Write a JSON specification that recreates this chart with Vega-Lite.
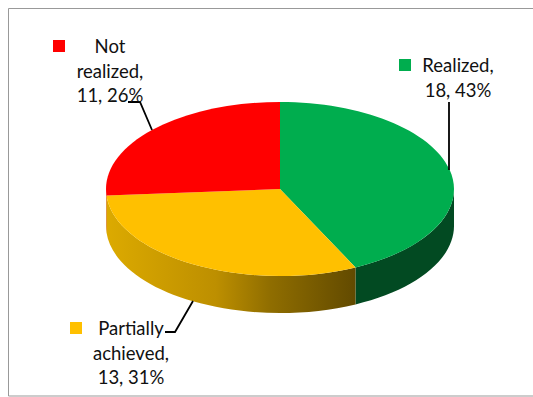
{
  "$schema": "https://vega.github.io/schema/vega-lite/v6.json",
  "width": 506,
  "height": 378,
  "padding": {"left": 27, "right": 0, "top": 0, "bottom": 19},
  "autosize": {"type": "none"},
  "background": "#ffffff",
  "view": {"stroke": null},
  "params": [
    {"name": "rx", "value": 174},
    {"name": "ry", "value": 87},
    {"name": "depth", "value": 37}
  ],
  "data": {
    "values": [
      {"status": "Realized", "count": 18, "share": 43, "label": "Realized,\n18, 43%"},
      {"status": "Partially achieved", "count": 13, "share": 31, "label": "Partially\nachieved,\n13, 31%"},
      {"status": "Not realized", "count": 11, "share": 26, "label": "Not\nrealized,\n11, 26%"}
    ]
  },
  "transform": [
    {"window": [{"op": "sum", "field": "count", "as": "cum"}], "sort": [{"field": "count", "order": "descending"}]},
    {"joinaggregate": [{"op": "sum", "field": "count", "as": "total"}]},
    {"calculate": "2*PI*(datum.cum-datum.count)/datum.total", "as": "a0"},
    {"calculate": "2*PI*datum.cum/datum.total", "as": "a1"},
    {"calculate": "round(rx*sin(datum.a0)*100)/100", "as": "x0"},
    {"calculate": "round(-ry*cos(datum.a0)*100)/100", "as": "y0"},
    {"calculate": "round(rx*sin(datum.a1)*100)/100", "as": "x1"},
    {"calculate": "round(-ry*cos(datum.a1)*100)/100", "as": "y1"},
    {"calculate": "max(datum.a0,PI/2)", "as": "w0"},
    {"calculate": "min(datum.a1,3*PI/2)", "as": "w1"},
    {"calculate": "round(rx*sin(datum.w0)*100)/100", "as": "wx0"},
    {"calculate": "round(-ry*cos(datum.w0)*100)/100", "as": "wy0"},
    {"calculate": "round(rx*sin(datum.w1)*100)/100", "as": "wx1"},
    {"calculate": "round(-ry*cos(datum.w1)*100)/100", "as": "wy1"},
    {"calculate": "'M0,0L'+datum.x0+','+datum.y0+'A'+rx+','+ry+' 0 '+(datum.a1-datum.a0>PI?1:0)+' 1 '+datum.x1+','+datum.y1+'Z'", "as": "facePath"},
    {"calculate": "'M'+datum.wx0+','+datum.wy0+'A'+rx+','+ry+' 0 0 1 '+datum.wx1+','+datum.wy1+'L'+datum.wx1+','+(datum.wy1+depth)+'A'+rx+','+ry+' 0 0 0 '+datum.wx0+','+(datum.wy0+depth)+'Z'", "as": "wallPath"}
  ],
  "resolve": {"scale": {"color": "independent", "shape": "independent"}},
  "layer": [
    {
      "data": {"values": [{"part": "frame"}]},
      "transform": [],
      "mark": {"type": "point", "filled": false, "opacity": 1, "size": 4, "stroke": "#999999", "strokeWidth": 1,
               "shape": "M253,-180.5L-271.5,-180.5L-271.5,207L253,207"}
    },
    {
      "transform": [{"filter": "datum.status !== 'Partially achieved'"}],
      "mark": {"type": "point", "filled": true, "opacity": 1, "size": 4},
      "encoding": {
        "shape": {"field": "wallPath", "type": "nominal", "scale": null},
        "color": {"field": "status", "type": "nominal", "legend": null,
                  "scale": {"domain": ["Realized", "Not realized"], "range": ["#024a22", "#c00000"]}}
      }
    },
    {
      "transform": [{"filter": "datum.status === 'Partially achieved'"}],
      "mark": {"type": "point", "filled": true, "opacity": 1, "size": 4,
               "color": {"gradient": "linear", "x1": 0, "y1": 0, "x2": 1, "y2": 0,
                         "stops": [
                           {"offset": 0, "color": "#dcaa00"},
                           {"offset": 0.44, "color": "#bd8f00"},
                           {"offset": 0.66, "color": "#8f6d00"},
                           {"offset": 1, "color": "#624a00"}
                         ]}},
      "encoding": {"shape": {"field": "wallPath", "type": "nominal", "scale": null}}
    },
    {
      "mark": {"type": "point", "filled": true, "opacity": 1, "size": 4},
      "encoding": {
        "shape": {"field": "facePath", "type": "nominal", "scale": null},
        "color": {"field": "status", "type": "nominal", "legend": null,
                  "scale": {"domain": ["Realized", "Partially achieved", "Not realized"], "range": ["#00ad4e", "#ffc000", "#ff0000"]}}
      }
    },
    {
      "mark": {"type": "point", "filled": false, "opacity": 1, "size": 4, "stroke": "#000000", "strokeWidth": 1.8},
      "encoding": {
        "shape": {"field": "status", "type": "nominal", "legend": null,
                  "scale": {"domain": ["Realized", "Partially achieved", "Not realized"],
                            "range": ["M169,-87L169,-19", "M-87,112L-105,143L-115,143", "M-152,-87L-140,-87L-128,-59"]}}
      }
    },
    {
      "mark": {"type": "point", "filled": true, "opacity": 1, "size": 4},
      "encoding": {
        "shape": {"field": "status", "type": "nominal", "legend": null,
                  "scale": {"domain": ["Realized", "Partially achieved", "Not realized"],
                            "range": ["M119,-130H131V-118H119Z", "M-210,133H-198V145H-210Z", "M-227,-149H-215V-137H-227Z"]}},
        "color": {"field": "status", "type": "nominal", "legend": null,
                  "scale": {"domain": ["Realized", "Partially achieved", "Not realized"], "range": ["#00ad4e", "#ffc000", "#ff0000"]}}
      }
    },
    {
      "transform": [{"filter": "datum.status === 'Realized'"}],
      "mark": {"type": "text", "font": "Lato", "fontSize": 18.5, "lineBreak": "\n", "lineHeight": 24.5, "align": "center", "baseline": "alphabetic", "color": "#111111", "dx": 178, "dy": -117},
      "encoding": {"text": {"field": "label", "type": "nominal"}}
    },
    {
      "transform": [{"filter": "datum.status === 'Partially achieved'"}],
      "mark": {"type": "text", "font": "Lato", "fontSize": 18.5, "lineBreak": "\n", "lineHeight": 24.5, "align": "center", "baseline": "alphabetic", "color": "#111111", "dx": -149, "dy": 146},
      "encoding": {"text": {"field": "label", "type": "nominal"}}
    },
    {
      "transform": [{"filter": "datum.status === 'Not realized'"}],
      "mark": {"type": "text", "font": "Lato", "fontSize": 18.5, "lineBreak": "\n", "lineHeight": 24.5, "align": "center", "baseline": "alphabetic", "color": "#111111", "dx": -170, "dy": -136},
      "encoding": {"text": {"field": "label", "type": "nominal"}}
    }
  ]
}
